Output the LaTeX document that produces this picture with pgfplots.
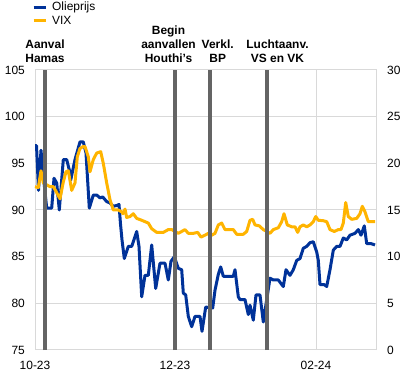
\documentclass[border=0pt]{standalone}
\usepackage{fontspec}
\setmainfont{Liberation Sans}
\usepackage{pgfplots}
\pgfplotsset{compat=1.18}
\definecolor{ecbblue}{HTML}{003299}
\definecolor{ecbyellow}{HTML}{FFB400}
\definecolor{evgray}{HTML}{646464}
\definecolor{gridgray}{HTML}{D9D9D9}
\begin{document}
\begin{tikzpicture}
\path[use as bounding box] (-35bp,-26bp) rectangle (371bp,350bp);
\begin{axis}[
  scale only axis, width=341bp, height=280bp,
  xmin=0, xmax=341, ymin=75, ymax=105,
  xtick={0,140,281}, xticklabels={10-23,12-23,02-24},
  ytick={75,80,...,105},
  grid=major, major grid style={gridgray, line width=1bp},
  axis line style={gridgray, line width=1bp},
  major tick length=0pt,
  tick label style={font=\fontsize{12}{14}\selectfont},
  /pgf/number format/assume math mode=true,
  yticklabel style={anchor=east, inner sep=0pt, xshift=-10bp},
  xticklabel style={anchor=north, inner sep=0pt, yshift=-11bp},
]
\addplot[ecbblue, line width=3bp, line join=round] coordinates {
(0,96.9) (1.5,96.9) (3.5,92.1) (6,96.4) (8,94.0) (11.7,90.2) (16.7,90.2) (19,93.4) (21.7,92.9) (24.3,90.0)
(28.3,95.4) (31.7,95.4) (34.3,94.3) (35.7,93.2) (40,95.4) (45,97.3) (48.3,97.3) (51,96.1) (54.3,90.2)
(58.3,91.6) (61.7,91.6) (65,91.3) (67.7,91.4) (71.7,90.9) (75,90.75) (78.3,90.4) (82.3,90.5) (84,90.6)
(85.5,88.5) (87,86.8) (89.3,84.8) (93.3,86.1) (96.7,86.1) (101.7,87.7) (104,86.1) (106.7,80.7) (110,83.0)
(113.3,83.0) (116.7,86.25) (120.7,81.6) (125,84.3) (130,84.3) (133.3,82.5) (136,84.5) (139.3,85.0)
(143.3,83.75) (146.7,83.6) (148.3,81.1) (150.7,80.9) (153.3,78.6) (156.7,77.5) (160,78.6) (165,78.6)
(167,77.0) (170.7,79.6) (177.7,79.5) (180,81.4) (183.3,83.1) (185.7,83.9) (188.3,82.9) (198.3,82.9)
(200,83.6) (203.3,80.7) (205,80.4) (210,80.4) (213.3,78.8) (215,79.8) (218.3,78.2) (221,80.9) (225,80.9)
(228.3,78.0) (235,82.7) (238.3,82.5) (243.3,82.5) (248.3,81.8) (251,83.6) (255,83.0) (258.3,83.6)
(261.7,84.6) (265,84.8) (268.3,85.9) (271.7,86.1) (275,86.5) (278.3,86.6) (281.7,85.5) (283.3,84.6)
(285,82.0) (289.3,82.0) (291.7,81.8) (295,83.6) (298.3,85.7) (301.7,86.1) (305,86.1) (308.3,87.0)
(311.7,86.8) (315,87.3) (320,87.5) (323.3,87.9) (326,87.3) (329.3,88.3) (331.7,86.4) (336,86.4) (340,86.25)
};
\end{axis}
\begin{axis}[
  scale only axis, width=341bp, height=280bp,
  xmin=0, xmax=341, ymin=0, ymax=30,
  axis y line*=right, axis x line=none,
  ytick={0,5,...,30},
  axis line style={gridgray, line width=1bp},
  major tick length=0pt,
  tick label style={font=\fontsize{12}{14}\selectfont},
  /pgf/number format/assume math mode=true,
  yticklabel style={anchor=west, inner sep=0pt, xshift=11bp},
  clip=false,
  legend image code/.code={\draw[#1] (0bp,0bp) -- (12bp,0bp);},
  legend style={at={(-0.0088,1.243)}, anchor=north west, draw=none, fill=none,
    inner sep=0pt, font=\fontsize{12}{14}\selectfont, row sep=3.5bp,
    nodes={inner sep=0pt}, /tikz/every even column/.append style={column sep=0bp}},
  legend cell align=left,
]
\addlegendimage{ecbblue, line width=3bp}
\addlegendentry{\hspace{5bp}Olieprijs}
\addplot[ecbyellow, line width=3bp, line join=round] coordinates {
(0,17.5) (3.3,17.4) (6,19.2) (8.3,17.9) (11.7,17.7) (15,17.5) (18.3,17.5) (21,17.0) (25,16.2) (28.3,18.0)
(31,19.1) (33.3,19.2) (36.7,17.1) (40,17.9) (42.3,20.7) (45,21.6) (48.3,21.8) (50,21.8) (53.3,20.7)
(55,19.1) (58.3,20.4) (61.7,21.1) (65.7,21.25) (68.3,20.0) (71.7,17.9) (75,16.1) (78.3,15.0) (83.3,15.0)
(86.7,14.8) (88,14.6) (90,15.1) (91.7,14.2) (95,14.3) (98.3,14.6) (101.7,14.1) (106.7,13.9) (110,13.75)
(113.3,13.6) (116.7,13.0) (121.7,12.6) (128.3,12.6) (133.3,12.9) (136.7,12.9) (140,12.7) (143.3,12.5)
(146.7,12.7) (150,12.9) (153.3,12.5) (158.3,12.5) (162.7,12.6) (166,12.1) (170,12.3) (173.3,12.5)
(176.7,12.3) (180,12.5) (183.3,13.4) (186.7,13.6) (190,12.9) (198.3,12.9) (201.7,12.4) (208.3,12.4)
(211.7,12.7) (215,13.9) (217.7,14.0) (220,13.4) (224.3,13.3) (228.3,12.9) (231.7,12.7) (235,12.5)
(238.3,12.9) (243.3,13.1) (246.7,13.75) (249,14.6) (252.3,13.4) (256.7,13.2) (260,13.2) (262.7,12.6)
(265,13.2) (268.3,13.4) (271.7,13.2) (275,13.4) (278.3,13.75) (280.7,14.3) (283.3,13.9) (288.3,13.85)
(291.7,13.75) (295,12.9) (299.3,12.7) (303.3,12.9) (306,12.9) (308.3,13.6) (310.7,15.8) (313.3,14.3)
(316.7,14.0) (321.7,14.1) (325,14.6) (327.3,15.4) (330,14.8) (333.3,13.75) (340,13.75)
};
\addlegendentry{\hspace{5bp}VIX}
\addplot[evgray, line width=4bp, forget plot] coordinates {(10,0) (10,30)};
\addplot[evgray, line width=4bp, forget plot] coordinates {(140,0) (140,30)};
\addplot[evgray, line width=4bp, forget plot] coordinates {(174.5,0) (174.5,30)};
\addplot[evgray, line width=4bp, forget plot] coordinates {(232,0) (232,30)};
\begin{scope}[every node/.style={anchor=south, inner sep=0pt, align=center, yshift=7.3bp,
  font=\bfseries\fontsize{12}{14}\selectfont}]
\node at (axis cs:10,30) {Aanval\\Hamas};
\node at (axis cs:133.5,30) {Begin\\aanvallen\\Houthi's};
\node at (axis cs:182.7,30) {Verkl.\\BP};
\node at (axis cs:242.5,30) {Luchtaanv.\\VS en VK};
\end{scope}
\end{axis}
\end{tikzpicture}
\end{document}
